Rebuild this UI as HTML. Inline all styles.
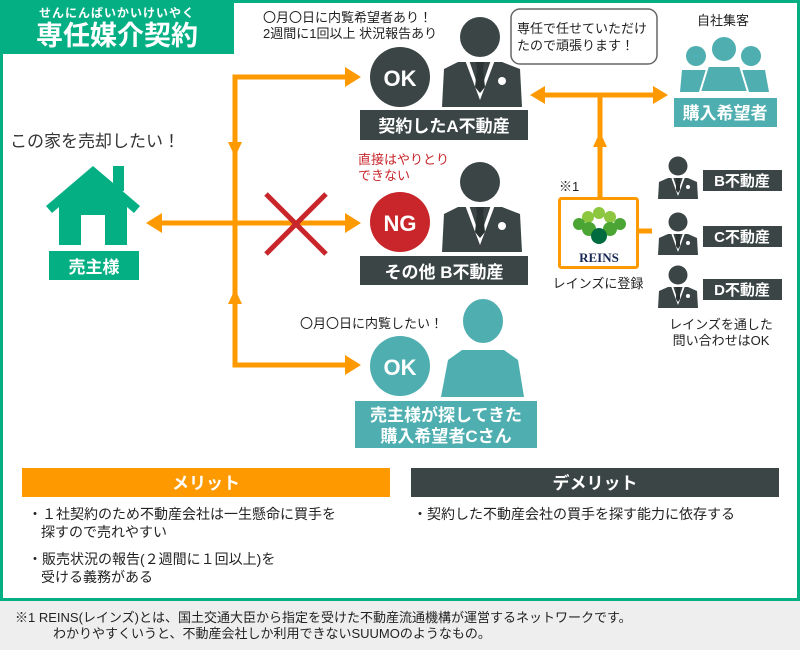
<!DOCTYPE html>
<html><head><meta charset="utf-8"><style>
body{margin:0;width:800px;height:650px;overflow:hidden;background:#fff;font-family:"Liberation Sans","Noto Sans CJK JP",sans-serif}
svg text{font-family:"Liberation Sans","Noto Sans CJK JP",sans-serif}
</style></head><body>
<svg width="800" height="650" viewBox="0 0 800 650" xmlns="http://www.w3.org/2000/svg">
<defs>
<g id="pb">
<circle cx="0" cy="0" r="20" fill="#3b4545"/>
<path d="M-22,25 L22,25 L40,32 L42,70 L-38,70 L-36,32 Z" fill="#3b4545"/>
<path d="M-15,23 L0,63 L15,23 L11,23 L0,55 L-11,23 Z" fill="#fff"/>
<path d="M-4,25 L4,25 L3,32 L5,50 L0,56 L-5,50 L-3,32 Z" fill="#2a3232"/>
<circle cx="22" cy="44" r="4" fill="#fff"/>
</g>
<g id="ps">
<circle cx="0" cy="0" r="9.5" fill="#3b4545"/>
<path d="M-10,12 L10,12 L19,16 L20,33 L-20,33 L-19,16 Z" fill="#3b4545"/>
<path d="M-7,11 L0,30 L7,11 L5,11 L0,26 L-5,11 Z" fill="#fff"/>
<path d="M-2,12 L2,12 L2,24 L0,27 L-2,24 Z" fill="#2a3232"/>
<circle cx="10" cy="21" r="2" fill="#fff"/>
</g>
</defs>
<rect x="1.5" y="1.5" width="797" height="598" fill="none" stroke="#05af84" stroke-width="3"/>
<rect x="0" y="601" width="800" height="49" fill="#eeeeee"/>
<rect x="0" y="0" width="234" height="54" fill="#05af84"/>
<text x="117" y="17" font-size="12" font-weight="bold" fill="#fff" text-anchor="middle" letter-spacing="1">せんにんばいかいけいやく</text>
<text x="117" y="45" font-size="27" font-weight="bold" fill="#fff" text-anchor="middle">専任媒介契約</text>

<text x="263" y="22" font-size="13" fill="#222">〇月〇日に内覧希望者あり！</text>
<text x="263" y="38" font-size="13" fill="#222">2週間に1回以上 状況報告あり</text>
<text x="10" y="147" font-size="17" fill="#333">この家を売却したい！</text>

<g stroke="#ff9900" stroke-width="5" fill="none">
<path d="M355,77 L235,77 L235,365 L355,365"/>
<path d="M155,223 L355,223"/>
<path d="M538,95 L660,95"/>
<path d="M600,95 L600,197"/>
<path d="M638,231 L652,231"/>
</g>
<g fill="#ff9900">
<path d="M345,67 L361,77 L345,87 Z"/>
<path d="M345,213 L361,223 L345,233 Z"/>
<path d="M345,355 L361,365 L345,375 Z"/>
<path d="M162,213 L146,223 L162,233 Z"/>
<path d="M228,142 L242,142 L235,157 Z"/>
<path d="M228,304 L242,304 L235,289 Z"/>
<path d="M545,86 L530,95 L545,104 Z"/>
<path d="M653,86 L668,95 L653,104 Z"/>
<path d="M593,147 L607,147 L600,132 Z"/>
</g>
<g stroke="#c8262a" stroke-width="5"><path d="M266,194 L326,254 M326,194 L266,254"/></g>

<g fill="#05af84">
<path d="M93,166 L140,206 L134,213 L93,178 L52,213 L46,206 Z"/>
<rect x="113" y="166" width="11" height="25"/>
<path d="M59,205 L93,176 L127,205 L127,245 L105,245 L105,215 L81,215 L81,245 L59,245 Z"/>
<rect x="49" y="251" width="90" height="29"/>
</g>
<text x="94" y="273" font-size="17" font-weight="bold" fill="#fff" text-anchor="middle">売主様</text>

<circle cx="400" cy="77" r="30" fill="#3b4545"/>
<text x="400" y="86" font-size="22" font-weight="bold" fill="#fff" text-anchor="middle">OK</text>
<use href="#pb" x="480" y="37"/>
<rect x="360" y="110" width="168" height="30" fill="#3b4545"/>
<text x="444" y="132" font-size="17" font-weight="bold" fill="#fff" text-anchor="middle">契約したA不動産</text>

<text x="358" y="164" font-size="13" fill="#c8262a">直接はやりとり</text>
<text x="358" y="180" font-size="13" fill="#c8262a">できない</text>
<circle cx="400" cy="222" r="30" fill="#c8262a"/>
<text x="400" y="231" font-size="22" font-weight="bold" fill="#fff" text-anchor="middle">NG</text>
<use href="#pb" x="480" y="182"/>
<rect x="360" y="256" width="168" height="29" fill="#3b4545"/>
<text x="444" y="278" font-size="17" font-weight="bold" fill="#fff" text-anchor="middle">その他 B不動産</text>

<text x="300" y="328" font-size="13" fill="#222">〇月〇日に内覧したい！</text>
<circle cx="400" cy="366" r="30" fill="#4eaeb0"/>
<text x="400" y="375" font-size="22" font-weight="bold" fill="#fff" text-anchor="middle">OK</text>
<ellipse cx="483" cy="321" rx="20" ry="22" fill="#4eaeb0"/>
<path d="M462,350 L504,350 L518,360 L524,397 L441,397 L448,360 Z" fill="#4eaeb0"/>
<rect x="355" y="401" width="182" height="47" fill="#4eaeb0"/>
<text x="446" y="421" font-size="17" font-weight="bold" fill="#fff" text-anchor="middle">売主様が探してきた</text>
<text x="446" y="442" font-size="17" font-weight="bold" fill="#fff" text-anchor="middle">購入希望者Cさん</text>

<rect x="511" y="9" width="146" height="55" rx="9" fill="#fff" stroke="#666" stroke-width="1.5"/>
<text x="517" y="33" font-size="13" fill="#222">専任で任せていただけ</text>
<text x="517" y="50" font-size="13" fill="#222">たので頑張ります！</text>

<text x="723" y="25" font-size="13" fill="#222" text-anchor="middle">自社集客</text>
<g fill="#4eaeb0">
<circle cx="696" cy="56" r="10"/><circle cx="751" cy="56" r="10"/>
<path d="M682,70 L710,70 L712,92 L680,92 Z"/><path d="M737,70 L765,70 L769,92 L735,92 Z"/>
<circle cx="724" cy="49" r="13" fill="#4eaeb0" stroke="#fff" stroke-width="2"/>
<path d="M708,66 L740,66 L748,92 L700,92 Z" stroke="#fff" stroke-width="2"/>
<rect x="674" y="98" width="103" height="29"/>
</g>
<text x="725" y="119" font-size="17" font-weight="bold" fill="#fff" text-anchor="middle">購入希望者</text>

<text x="559" y="191" font-size="13" fill="#222">※1</text>
<rect x="559.5" y="198.5" width="78" height="69" rx="2" fill="#fff" stroke="#ff9900" stroke-width="3"/>
<g>
<circle cx="599" cy="213" r="6" fill="#8dc63f"/>
<circle cx="588" cy="217" r="6" fill="#8dc63f"/><circle cx="610" cy="217" r="6" fill="#8dc63f"/>
<circle cx="579" cy="224" r="6" fill="#4aa534"/><circle cx="620" cy="224" r="6" fill="#4aa534"/>
<circle cx="589" cy="229" r="7" fill="#4aa534"/><circle cx="610" cy="229" r="7" fill="#4aa534"/>
<circle cx="599" cy="236" r="8" fill="#006b3f"/>
</g>
<text x="599" y="262" font-size="13" style="font-family:'Liberation Serif',serif" fill="#1a2a55" text-anchor="middle" font-weight="bold">REINS</text>
<text x="598" y="288" font-size="13" fill="#222" text-anchor="middle">レインズに登録</text>

<use href="#ps" x="678" y="166"/>
<use href="#ps" x="678" y="222"/>
<use href="#ps" x="678" y="275"/>
<rect x="703" y="170" width="79" height="21" fill="#3b4545"/>
<rect x="703" y="226" width="79" height="21" fill="#3b4545"/>
<rect x="703" y="279" width="79" height="21" fill="#3b4545"/>
<text x="742" y="186" font-size="15" font-weight="bold" fill="#fff" text-anchor="middle">B不動産</text>
<text x="742" y="242" font-size="15" font-weight="bold" fill="#fff" text-anchor="middle">C不動産</text>
<text x="742" y="295" font-size="15" font-weight="bold" fill="#fff" text-anchor="middle">D不動産</text>
<text x="721" y="329" font-size="13" fill="#222" text-anchor="middle">レインズを通した</text>
<text x="721" y="345" font-size="13" fill="#222" text-anchor="middle">問い合わせはOK</text>

<rect x="22" y="468" width="368" height="29" fill="#ff9900"/>
<text x="206" y="489" font-size="17" font-weight="bold" fill="#fff" text-anchor="middle">メリット</text>
<rect x="411" y="468" width="368" height="29" fill="#3b4545"/>
<text x="595" y="489" font-size="17" font-weight="bold" fill="#fff" text-anchor="middle">デメリット</text>
<g font-size="14" fill="#222">
<text x="28" y="519">・１社契約のため不動産会社は一生懸命に買手を</text>
<text x="41" y="537">探すので売れやすい</text>
<text x="28" y="564">・販売状況の報告(２週間に１回以上)を</text>
<text x="41" y="582">受ける義務がある</text>
<text x="413" y="519">・契約した不動産会社の買手を探す能力に依存する</text>
</g>
<g font-size="13" fill="#222">
<text x="15" y="622">※1 REINS(レインズ)とは、国土交通大臣から指定を受けた不動産流通機構が運営するネットワークです。</text>
<text x="53" y="638">わかりやすくいうと、不動産会社しか利用できないSUUMOのようなもの。</text>
</g>
</svg>
</body></html>
